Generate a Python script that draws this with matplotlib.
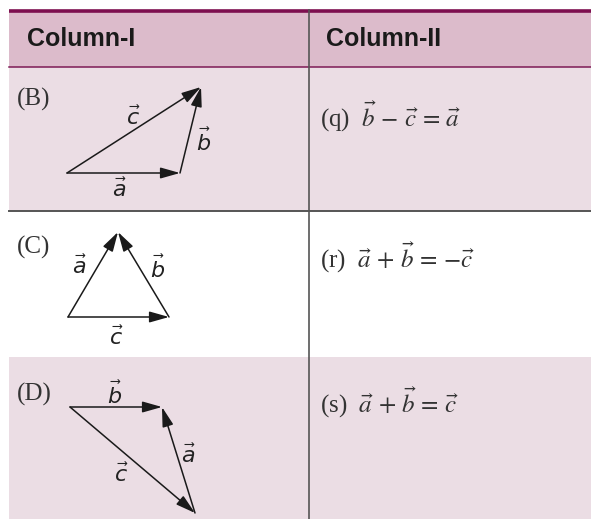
import matplotlib
matplotlib.use("Agg")
import matplotlib.pyplot as plt
from matplotlib.patches import Rectangle

W, H = 591, 519

# Table structure (pixel-space rows)
headers = ["Column-I", "Column-II"]
row_labels = ["(B)", "(C)", "(D)"]
row_answers = [r"(q)  $\vec{b}\,-\,\vec{c}\,=\,\vec{a}$",
               r"(r)  $\vec{a}\,+\,\vec{b}\,=\,{-}\vec{c}$",
               r"(s)  $\vec{a}\,+\,\vec{b}\,=\,\vec{c}$"]
row_tops = [67, 211, 357]
row_bottoms = [211, 357, 519]
row_colors = ["#ebdde4", "#ffffff", "#ebdde4"]

# Vector diagrams: (start, end) for each vector, label and label position
diagram_B = {"a": ((67, 173), (180, 173)), "b": ((180, 173), (201, 87)), "c": ((67, 173), (201, 87))}
labels_B = {"a": (120, 189), "b": (204, 141), "c": (133, 117)}
diagram_C = {"a": ((68, 317), (118, 232)), "b": ((169, 317), (118, 232)), "c": ((68, 317), (169, 317))}
labels_C = {"a": (80, 266), "b": (158, 268), "c": (116, 337)}
diagram_D = {"b": ((70, 407), (162, 407)), "a": ((195, 513), (162, 407)), "c": ((70, 407), (195, 513))}
labels_D = {"b": (115, 394), "a": (189, 455), "c": (121, 474)}

fig = plt.figure(figsize=(W / 100, H / 100), dpi=100)
ax = fig.add_axes([0, 0, 1, 1])
ax.set_xlim(0, W)
ax.set_ylim(H, 0)
ax.axis("off")

left, right, divx = 9, W, 309

# header band
ax.add_patch(Rectangle((left, 10), right - left, 57, facecolor="#dcbbcb", edgecolor="none"))
for top, bot, col in zip(row_tops, row_bottoms, row_colors):
    ax.add_patch(Rectangle((left, top), right - left, bot - top, facecolor=col, edgecolor="none"))

ax.plot([left, right], [10.5, 10.5], color="#7d0f4f", lw=2.6, solid_capstyle="butt")
ax.plot([left, right], [67, 67], color="#7d1a55", lw=1.1)
ax.plot([left, right], [211, 211], color="#555555", lw=1.4)
ax.plot([divx, divx], [10, H], color="#555555", lw=1.2)

ax.text(27, 39, headers[0], family="Liberation Sans", weight="bold", fontsize=18,
        color="#1a1a1a", va="center", ha="left")
ax.text(326, 39, headers[1], family="Liberation Sans", weight="bold", fontsize=18,
        color="#1a1a1a", va="center", ha="left")

label_y = [99, 247, 394]
answer_y = [116, 257, 402]
for lab, ly, ans, ay in zip(row_labels, label_y, row_answers, answer_y):
    ax.text(17, ly, lab, family="Liberation Serif", fontsize=18, color="#333333",
            va="center", ha="left")
    ax.text(320, ay, ans, family="Liberation Serif", fontsize=18, color="#333333",
            va="center", ha="left", math_fontfamily="stix")

for diag, labs in [(diagram_B, labels_B), (diagram_C, labels_C), (diagram_D, labels_D)]:
    for name, (s, e) in diag.items():
        ax.annotate("", xy=e, xytext=s,
                    arrowprops=dict(arrowstyle="-|>,head_length=0.85,head_width=0.24",
                                    mutation_scale=14, color="#1a1a1a", lw=1.1,
                                    shrinkA=0, shrinkB=0))
    for name, (x, y) in labs.items():
        ax.text(x, y, r"$\vec{%s}$" % name, fontsize=16, color="#222222",
                ha="center", va="center", math_fontfamily="dejavusans")

fig.savefig("out.png", dpi=100)
